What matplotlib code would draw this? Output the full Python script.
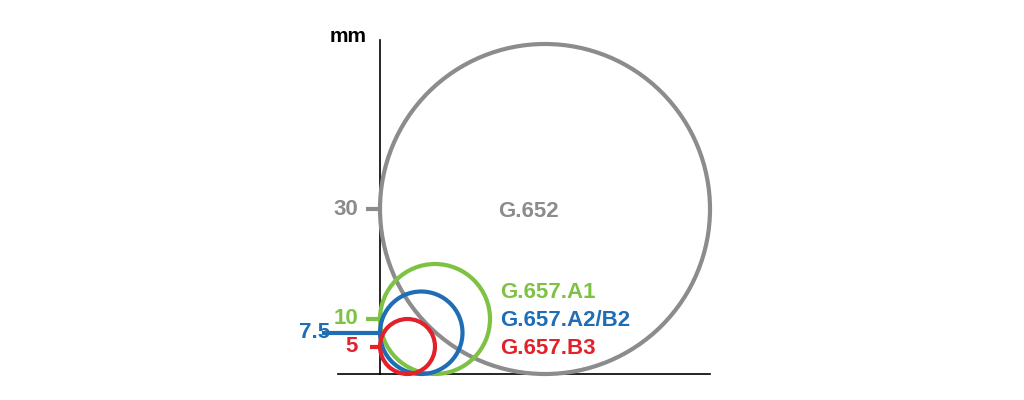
import matplotlib
matplotlib.use("Agg")
import matplotlib.pyplot as plt
from matplotlib.patches import Circle

radii = [30, 10, 7.5, 5]
names = ["G.652", "G.657.A1", "G.657.A2/B2", "G.657.B3"]
tick_labels = ["30", "10", "7.5", "5"]
colors = ["#8c8c8e", "#7dc242", "#1f6db5", "#e2222a"]

S = 5.5  # px per mm
fig = plt.figure(figsize=(10.24, 4), dpi=100)
ax = fig.add_axes([0, 0, 1, 1])
ax.set_xlim(-380 / S, (1024 - 380) / S)
ax.set_ylim((374 - 400) / S, 374 / S)
ax.set_aspect("equal")
ax.axis("off")

font = dict(family=["Liberation Sans", "DejaVu Sans"], fontweight="bold")

ax.plot([0, 0], [0, (374 - 40) / S], color="black", lw=1.2, zorder=1)
ax.plot([(338 - 380) / S, (710 - 380) / S], [0, 0], color="black", lw=1.2, zorder=1)
ax.text((348 - 380) / S, (374 - 36) / S, "mm", ha="center", va="center", fontsize=15, color="black", **font)

tick_start = [-14 / S, -14 / S, -58 / S, -10 / S]
label_x = [-22 / S, -22 / S, -50 / S, -22 / S]
for r, c, t0, lx, tl in zip(radii, colors, tick_start, label_x, tick_labels):
    ax.add_patch(Circle((r, r), r, fill=False, ec=c, lw=3, zorder=2))
    ax.plot([t0, 0], [r, r], color=c, lw=3, zorder=1, solid_capstyle="butt")
    ax.text(lx, r, tl, ha="right", va="center", fontsize=16, color=c, **font)

ax.text(27, 29.5, names[0], ha="center", va="center", fontsize=16, color=colors[0], **font)
for i, yp in zip([1, 2, 3], [293, 321, 349]):
    ax.text((500 - 380) / S, (374 - yp) / S, names[i], ha="left", va="center",
            fontsize=16, color=colors[i], **font)

fig.savefig("out.png", dpi=100)
